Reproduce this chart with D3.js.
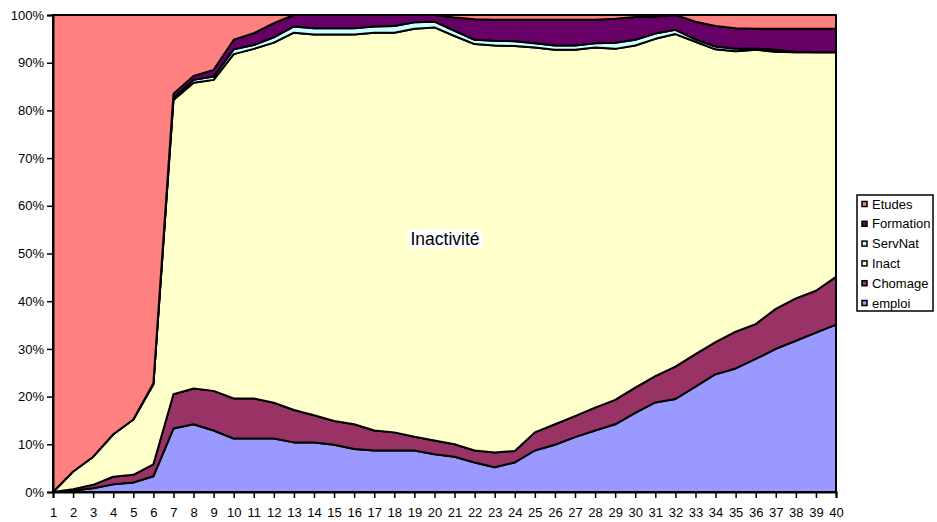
<!DOCTYPE html>
<html>
<head>
  <meta charset="utf-8">
  <title>Parcours</title>
  <script type="text/javascript" src="https://d3js.org/d3.v7.min.js"></script>
  <style>
    body { margin: 0; background: #fff; }
    text { font-family: Arial, "Liberation Sans", sans-serif; }
  </style>
</head>
<body>
  <div id="container"></div>
  <script type="text/javascript">
    // data, in percent, one value per month 1..40
    var months = d3.range(1, 41);
    var emploi = [0,0.3,0.8,1.6,2.0,3.3,13.3,14.2,12.9,11.2,11.2,11.2,10.4,10.4,9.9,9.0,8.7,8.7,8.7,7.9,
                  7.4,6.2,5.2,6.2,8.7,9.9,11.5,12.9,14.2,16.6,18.8,19.5,22.1,24.7,25.9,27.9,30.0,31.7,33.4,35.1];
    var chomage = [0,0.3,0.7,1.6,1.6,2.5,7.2,7.5,8.3,8.4,8.4,7.5,6.8,5.7,5.0,5.2,4.2,3.8,2.9,2.9,
                   2.6,2.5,3.1,2.4,3.8,4.3,4.4,4.8,5.1,5.3,5.5,6.8,6.8,6.7,7.7,7.3,8.4,8.9,8.8,10.0];
    var inact = [0,3.7,5.9,8.9,11.6,16.8,61.7,64.1,65.2,72.2,73.3,75.5,79.1,79.8,81.0,81.7,83.4,83.8,85.5,86.6,
                 85.6,85.2,85.3,84.9,80.7,78.5,76.8,75.5,73.6,71.7,70.8,69.7,65.5,61.4,58.8,57.5,53.9,51.6,50.0,47.1];
    var servNat = [0,0,0,0,0,0,0.4,0.6,0.7,1.0,0.8,1.1,1.3,1.3,1.3,1.3,1.3,1.4,1.4,1.2,
                   1.1,0.9,1.0,1.0,0.9,0.9,0.9,0.9,1.3,1.2,1.1,0.9,0.5,0.6,0.5,0.3,0.4,0.1,0,0];
    var formation = [0,0,0,0,0,0.2,0.9,0.8,1.4,2.0,2.5,3.0,2.4,2.8,2.8,2.8,2.4,2.3,1.5,1.4,
                     2.8,4.3,4.4,4.5,4.9,5.4,5.4,4.9,5.0,4.8,3.6,3.1,3.7,4.3,4.3,4.1,4.4,4.8,4.9,4.9];
    var etudes = [100,95.7,92.6,87.9,84.8,77.2,16.5,12.8,11.5,5.2,3.8,1.7,0,0,0,0,0,0,0,0,
                  0.5,0.9,1.0,1.0,1.0,1.0,1.0,1.0,0.8,0.4,0.3,0,1.4,2.3,2.8,2.9,2.9,2.9,2.9,2.9];

    var keys = ['emploi', 'Chomage', 'Inact', 'ServNat', 'Formation', 'Etudes'];
    var colours = ['#9999ff', '#993366', '#ffffcc', '#ccffff', '#660066', '#ff8080'];
    var yTicks = d3.range(0, 1.01, 0.1);

    var rows = months.map(function(m, i) {
      return {month: m, emploi: emploi[i], Chomage: chomage[i], Inact: inact[i],
              ServNat: servNat[i], Formation: formation[i], Etudes: etudes[i]};
    });

    var width = 937, height = 522;
    var margin = {top: 15, right: 101, bottom: 30, left: 53};

    var svg = d3.select('#container').append('svg')
      .attr('width', width)
      .attr('height', height);

    var x = d3.scaleLinear().domain([1, 40]).range([margin.left, width - margin.right]);
    var y = d3.scaleLinear().domain([0, 1]).range([height - margin.bottom, margin.top]);
    var colour = d3.scaleOrdinal().domain(keys).range(colours);

    var series = d3.stack()
      .keys(keys)
      .offset(d3.stackOffsetExpand)(rows);

    var area = d3.area()
      .x(d => x(d.data.month))
      .y0(d => y(d[0]))
      .y1(d => y(d[1]));

    // plot area frame
    svg.append('rect')
      .attr('x', x(1))
      .attr('y', y(1))
      .attr('width', x(40) - x(1))
      .attr('height', y(0) - y(1))
      .attr('fill', 'none')
      .attr('stroke', '#999')
      .attr('stroke-width', 1.5);

    svg.append('g')
      .selectAll('path')
      .data(series)
      .enter()
      .append('path')
        .attr('d', area)
        .attr('fill', d => colour(d.key))
        .attr('stroke', '#000')
        .attr('stroke-width', 2)
        .attr('stroke-linejoin', 'round');

    var yAxis = svg.append('g')
      .attr('transform', `translate(${x(1)},0)`)
      .call(d3.axisLeft(y).tickValues(yTicks).tickFormat(d3.format('.0%')).tickSize(6).tickPadding(3));

    var xAxis = svg.append('g')
      .attr('transform', `translate(0,${y(0)})`)
      .call(d3.axisBottom(x).tickValues(months).tickFormat(d3.format('d')).tickSize(6).tickPadding(10));

    [yAxis, xAxis].forEach(function(ax) {
      ax.select('.domain').attr('stroke', '#000').attr('stroke-width', 2);
      ax.selectAll('.tick line').attr('stroke', '#000').attr('stroke-width', 1.5);
      ax.selectAll('.tick text')
        .attr('fill', '#000')
        .style('font-size', '13px')
        .style('font-family', 'Arial, "Liberation Sans", sans-serif');
    });

    // label in the middle of the Inact band
    var lab = svg.append('g').attr('transform', 'translate(445,239)');
    lab.append('rect')
      .attr('x', -37)
      .attr('y', -9.5)
      .attr('width', 74)
      .attr('height', 19)
      .attr('fill', '#fff');
    lab.append('text')
      .attr('text-anchor', 'middle')
      .attr('dy', '0.36em')
      .style('font-size', '17.5px')
      .attr('fill', '#000')
      .text('Inactivité');

    // legend, top entry is the top series
    var legend = svg.append('g').attr('transform', 'translate(857,195)');
    legend.append('rect')
      .attr('x', 0)
      .attr('y', 0)
      .attr('width', 76)
      .attr('height', 116)
      .attr('fill', '#fff')
      .attr('stroke', '#000')
      .attr('stroke-width', 1.5);

    var entry = legend.selectAll('.entry')
      .data(keys.slice().reverse())
      .enter()
      .append('g')
        .attr('class', 'entry')
        .attr('transform', (d, i) => `translate(5,${9 + i * 19.8})`);

    entry.append('rect')
      .attr('x', 0)
      .attr('y', -2.5)
      .attr('width', 5)
      .attr('height', 5)
      .attr('fill', d => colour(d))
      .attr('stroke', '#000')
      .attr('stroke-width', 1.5);

    entry.append('text')
      .attr('x', 10)
      .attr('dy', '0.35em')
      .style('font-size', '13px')
      .attr('fill', '#000')
      .text(d => d);
  </script>
</body>
</html>
